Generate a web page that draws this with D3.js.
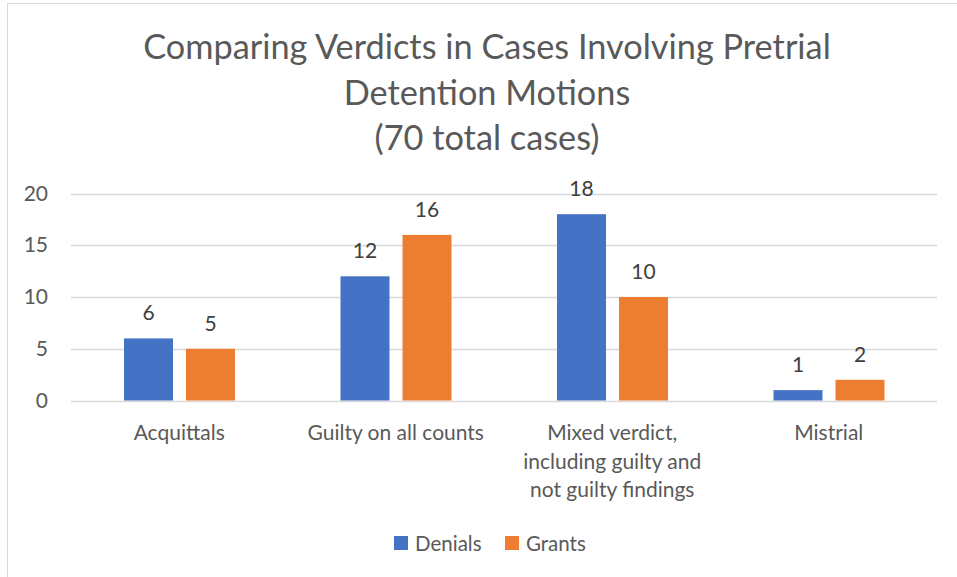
<!DOCTYPE html>
<html>
<head>
<meta charset="utf-8">
<script src="https://cdn.jsdelivr.net/npm/d3@7"></script>
<style>
  html, body { margin: 0; padding: 0; background: #fff; }
  svg { display: block; font-family: Lato, sans-serif; }
</style>
</head>
<body>
<div id="chart"></div>
<script>
// Chart data
const categories = [
  ["Acquittals"],
  ["Guilty on all counts"],
  ["Mixed verdict,", "including guilty and", "not guilty findings"],
  ["Mistrial"]
];
const seriesNames = ["Denials", "Grants"];
const denials = [6, 12, 18, 1];
const grants = [5, 16, 10, 2];
const yTicks = [0, 5, 10, 15, 20];
const titleLines = ["Comparing Verdicts in Cases Involving Pretrial", "Detention Motions", "(70 total cases)"];

const colors = { Denials: "#4472C4", Grants: "#ED7D31" };
const textColor = "#595959";

const width = 957, height = 577;

const svg = d3.select("#chart").append("svg")
  .attr("width", width)
  .attr("height", height);

// chart border
svg.append("rect")
  .attr("x", 7.5).attr("y", 3.5)
  .attr("width", width + 10).attr("height", height + 10)
  .attr("fill", "#fff")
  .attr("stroke", "#d9d9d9");

// Title
svg.append("g").selectAll("text")
  .data(titleLines)
  .join("text")
  .attr("x", 487)
  .attr("y", (d, i) => 59 + i * 45.5)
  .attr("text-anchor", "middle")
  .attr("fill", textColor)
  .style("font-size", "34.3px")
  .text(d => d);

const x0 = d3.scaleBand()
  .domain(d3.range(categories.length))
  .range([71, 937])
  .padding(0);

const x1 = d3.scaleBand()
  .domain(seriesNames)
  .range([53, 164])
  .paddingInner(0.21)
  .paddingOuter(0);

const y = d3.scaleLinear()
  .domain([0, 20])
  .range([400.5, 193.5]);

// gridlines
svg.append("g")
  .selectAll("line")
  .data(yTicks)
  .join("line")
  .attr("x1", 71).attr("x2", 937)
  .attr("y1", d => Math.round(y(d)) + 0.5)
  .attr("y2", d => Math.round(y(d)) + 0.5)
  .attr("stroke", "#d9d9d9")
  .attr("stroke-width", 1.3);

// y axis labels
const yAxis = d3.axisLeft(y).tickValues(yTicks).tickSize(0).tickPadding(0);
svg.append("g")
  .attr("transform", "translate(48,0)")
  .call(yAxis)
  .call(g => g.select(".domain").remove())
  .call(g => g.selectAll("text")
    .attr("fill", textColor)
    .style("font-size", "21px")
    .style("font-family", "Lato, sans-serif"));

// bars
const rows = categories.map((c, i) => ({ i, values: [
  { key: "Denials", value: denials[i] },
  { key: "Grants", value: grants[i] }
]}));

const groups = svg.append("g")
  .selectAll("g")
  .data(rows)
  .join("g")
  .attr("transform", d => `translate(${x0(d.i)},0)`);

groups.selectAll("rect")
  .data(d => d.values)
  .join("rect")
  .attr("x", d => x1(d.key))
  .attr("y", d => y(d.value))
  .attr("width", x1.bandwidth())
  .attr("height", d => y(0) - y(d.value))
  .attr("fill", d => colors[d.key]);

groups.selectAll("text.val")
  .data(d => d.values)
  .join("text")
  .attr("class", "val")
  .attr("x", d => x1(d.key) + x1.bandwidth() / 2)
  .attr("y", d => y(d.value) - 18)
  .attr("text-anchor", "middle")
  .attr("fill", "#404040")
  .style("font-size", "21px")
  .text(d => d.value);

// category labels
const catG = svg.append("g")
  .selectAll("text")
  .data(categories)
  .join("text")
  .attr("x", (d, i) => x0(i) + x0.bandwidth() / 2)
  .attr("y", 440)
  .attr("text-anchor", "middle")
  .attr("fill", textColor)
  .style("font-size", "21px");

catG.selectAll("tspan")
  .data(d => d)
  .join("tspan")
  .attr("x", function() { return d3.select(this.parentNode).attr("x"); })
  .attr("dy", (d, i) => i === 0 ? 0 : 28.5)
  .text(d => d);

// legend
const legendItems = [
  { key: "Denials", x: 394 },
  { key: "Grants", x: 505 }
];
const legend = svg.append("g")
  .selectAll("g")
  .data(legendItems)
  .join("g")
  .attr("transform", d => `translate(${d.x},536)`);

legend.append("rect")
  .attr("width", 14).attr("height", 14)
  .attr("fill", d => colors[d.key]);

legend.append("text")
  .attr("x", 21)
  .attr("y", 14.5)
  .attr("fill", textColor)
  .style("font-size", "20.5px")
  .text(d => d.key);
</script>
</body>
</html>
